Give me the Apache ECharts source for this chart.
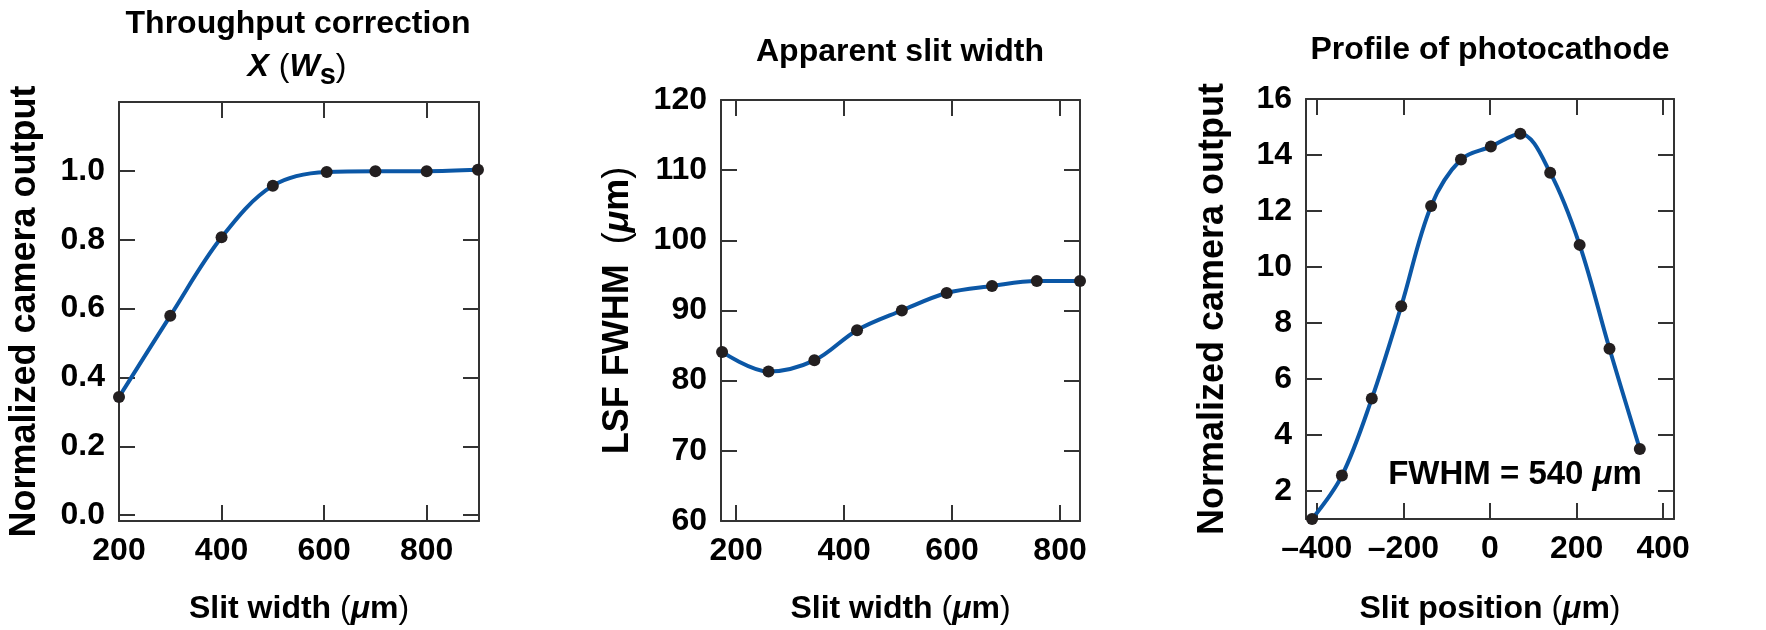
<!DOCTYPE html>
<html>
<head>
<meta charset="utf-8">
<script src="https://cdn.jsdelivr.net/npm/echarts@6/dist/echarts.min.js"></script>
<style>html,body{margin:0;padding:0;background:#fff}#c{width:1766px;height:630px}</style>
</head>
<body>
<div id="c"></div>
<script>
// ---- data ----
const throughputX = [200, 300, 400, 500, 605, 700, 800, 900];
const throughputY = [0.343, 0.579, 0.807, 0.957, 0.997, 0.999, 0.999, 1.003];
const throughputXTicks = [400, 600, 800];
const throughputXLabels = [200, 400, 600, 800];
const throughputYTicks = [0, 0.2, 0.4, 0.6, 0.8, 1.0];

const slitX = [174, 260, 345, 424, 507, 590, 674, 757, 837];
const slitFwhm = [84.1, 81.3, 82.9, 87.2, 90.0, 92.5, 93.5, 94.2, 94.2];
const slitXTicks = [200, 400, 600, 800];
const slitYTicks = [60, 70, 80, 90, 100, 110, 120];

const positionX = [-411, -342, -273, -205, -136, -67, 2, 70, 139, 207, 276, 346];
const profileY = [1.0, 2.55, 5.3, 8.6, 12.18, 13.84, 14.3, 14.76, 13.37, 10.79, 7.08, 3.5];
const positionXTicks = [-400, -200, 0, 200, 400];
const profileYTicks = [2, 4, 6, 8, 10, 12, 14];
const profileYLabels = [2, 4, 6, 8, 10, 12, 14, 16];

// ---- styles ----
const FONT = '"Liberation Sans", Arial, Helvetica, sans-serif';
const AXC = '#333333';
const BLUE = '#0b57a6';
const DOT = '#231f20';
const TICKFS = 32;
const XNAMEFS = 32;
const YNAMEFS = 36;

function nameStyle(fs) {
  return {
    fontSize: fs, fontWeight: 'bold', fontFamily: FONT, color: '#000',
    rich: {
      mu: { fontStyle: 'italic', fontWeight: 'bold', fontSize: fs, fontFamily: FONT, color: '#000' },
      p: { fontWeight: 'normal', fontSize: fs, fontFamily: FONT, color: '#000' }
    }
  };
}

function tickFmt(v) {
  return String(v).replace('-', '\u2013');
}

function mainX(grid, min, max, ticks, labels, name, gap, fmt) {
  return {
    type: 'value', gridIndex: grid, min: min, max: max, position: 'bottom',
    axisLine: { show: true, onZero: false, lineStyle: { color: AXC, width: 2 } },
    axisTick: { show: true, inside: true, length: 16, customValues: ticks, lineStyle: { color: AXC, width: 2 } },
    axisLabel: { show: true, customValues: labels, margin: 14, fontSize: TICKFS, fontWeight: 'bold', fontFamily: FONT, color: '#000', formatter: fmt || tickFmt },
    splitLine: { show: false },
    name: name, nameLocation: 'middle', nameGap: gap, nameTextStyle: nameStyle(XNAMEFS)
  };
}
function mirrorX(grid, min, max, ticks) {
  return {
    type: 'value', gridIndex: grid, min: min, max: max, position: 'top',
    axisLine: { show: true, onZero: false, lineStyle: { color: AXC, width: 2 } },
    axisTick: { show: true, inside: true, length: 16, customValues: ticks, lineStyle: { color: AXC, width: 2 } },
    axisLabel: { show: false }, splitLine: { show: false }
  };
}
function mainY(grid, min, max, ticks, labels, name, gap, fmt) {
  return {
    type: 'value', gridIndex: grid, min: min, max: max, position: 'left',
    axisLine: { show: true, onZero: false, lineStyle: { color: AXC, width: 2 } },
    axisTick: { show: true, inside: true, length: 16, customValues: ticks, lineStyle: { color: AXC, width: 2 } },
    axisLabel: { show: true, customValues: labels, margin: 14, fontSize: TICKFS, fontWeight: 'bold', fontFamily: FONT, color: '#000', formatter: fmt || tickFmt },
    splitLine: { show: false },
    name: name, nameLocation: 'middle', nameGap: gap, nameTextStyle: nameStyle(YNAMEFS)
  };
}
function mirrorY(grid, min, max, ticks) {
  return {
    type: 'value', gridIndex: grid, min: min, max: max, position: 'right',
    axisLine: { show: true, onZero: false, lineStyle: { color: AXC, width: 2 } },
    axisTick: { show: true, inside: true, length: 16, customValues: ticks, lineStyle: { color: AXC, width: 2 } },
    axisLabel: { show: false }, splitLine: { show: false }
  };
}
function pairs(xs, ys) { return xs.map((x, i) => [x, ys[i]]); }
function lineSeries(xi, yi, data) {
  return {
    type: 'line', xAxisIndex: xi, yAxisIndex: yi, data: data, smooth: 0.35, clip: false,
    symbol: 'circle', symbolSize: 12, showSymbol: true,
    itemStyle: { color: DOT, borderWidth: 0 },
    lineStyle: { color: BLUE, width: 4 },
    emphasis: { disabled: true }, animation: false
  };
}

const chart = echarts.init(document.getElementById('c'), null, { renderer: 'canvas' });
chart.setOption({
  animation: false,
  backgroundColor: '#fff',
  grid: [
    { left: 119, top: 102, width: 360, height: 423 },
    { left: 721, top: 100, width: 359, height: 423 },
    { left: 1306, top: 99, width: 368, height: 422 }
  ],
  xAxis: [
    mainX(0, 200, 902, throughputXTicks, throughputXLabels, 'Slit width {p|(}{mu|μ}m{p|)}', 72),
    mirrorX(0, 200, 902, throughputXTicks),
    mainX(1, 172, 837, slitXTicks, slitXTicks, 'Slit width {p|(}{mu|μ}m{p|)}', 72),
    mirrorX(1, 172, 837, slitXTicks),
    mainX(2, -425, 425, positionXTicks, positionXTicks, 'Slit position {p|(}{mu|μ}m{p|)}', 74),
    mirrorX(2, -425, 425, positionXTicks)
  ],
  yAxis: [
    mainY(0, -0.017, 1.2, throughputYTicks, throughputYTicks, 'Normalized camera output', 76, v => v.toFixed(1)),
    mirrorY(0, -0.017, 1.2, throughputYTicks),
    mainY(1, 60, 120, slitYTicks, slitYTicks, 'LSF FWHM  {p|(}{mu|μ}m{p|)}', 85),
    mirrorY(1, 60, 120, slitYTicks),
    mainY(2, 1, 16, profileYTicks, profileYLabels, 'Normalized camera output', 75),
    mirrorY(2, 1, 16, profileYTicks)
  ],
  series: [
    lineSeries(0, 0, pairs(throughputX, throughputY)),
    lineSeries(2, 2, pairs(slitX, slitFwhm)),
    lineSeries(4, 4, pairs(positionX, profileY))
  ],
  graphic: [
    { type: 'text', x: 298, y: 24, silent: true, style: { text: 'Throughput correction', font: 'bold 32px ' + FONT, fill: '#000', align: 'center', verticalAlign: 'middle' } },
    { type: 'text', x: 297, y: 67, silent: true, style: {
        text: '{i|X}{sp| }{p|(}{i|W}{s|s}{p|)}', align: 'center', verticalAlign: 'middle', fill: '#000',
        rich: {
          i: { fontStyle: 'italic', fontWeight: 'bold', fontSize: 32, fontFamily: FONT, lineHeight: 46, verticalAlign: 'middle' },
          sp: { fontSize: 32, fontFamily: FONT, lineHeight: 46, width: 10 },
          p: { fontWeight: 'normal', fontSize: 32, fontFamily: FONT, lineHeight: 46, verticalAlign: 'middle' },
          s: { fontWeight: 'bold', fontSize: 29, fontFamily: FONT, lineHeight: 30, verticalAlign: 'bottom' }
        } } },
    { type: 'text', x: 900, y: 52, silent: true, style: { text: 'Apparent slit width', font: 'bold 32px ' + FONT, fill: '#000', align: 'center', verticalAlign: 'middle' } },
    { type: 'text', x: 1490, y: 50, silent: true, style: { text: 'Profile of photocathode', font: 'bold 32px ' + FONT, fill: '#000', align: 'center', verticalAlign: 'middle' } },
    { type: 'text', x: 1515, y: 475, silent: true, style: {
        text: 'FWHM = 540 {mu|μ}m', font: 'bold 33px ' + FONT, fill: '#000', align: 'center', verticalAlign: 'middle',
        rich: { mu: { fontStyle: 'italic', fontWeight: 'bold', fontSize: 33, fontFamily: FONT } } } }
  ]
});
</script>
</body>
</html>
